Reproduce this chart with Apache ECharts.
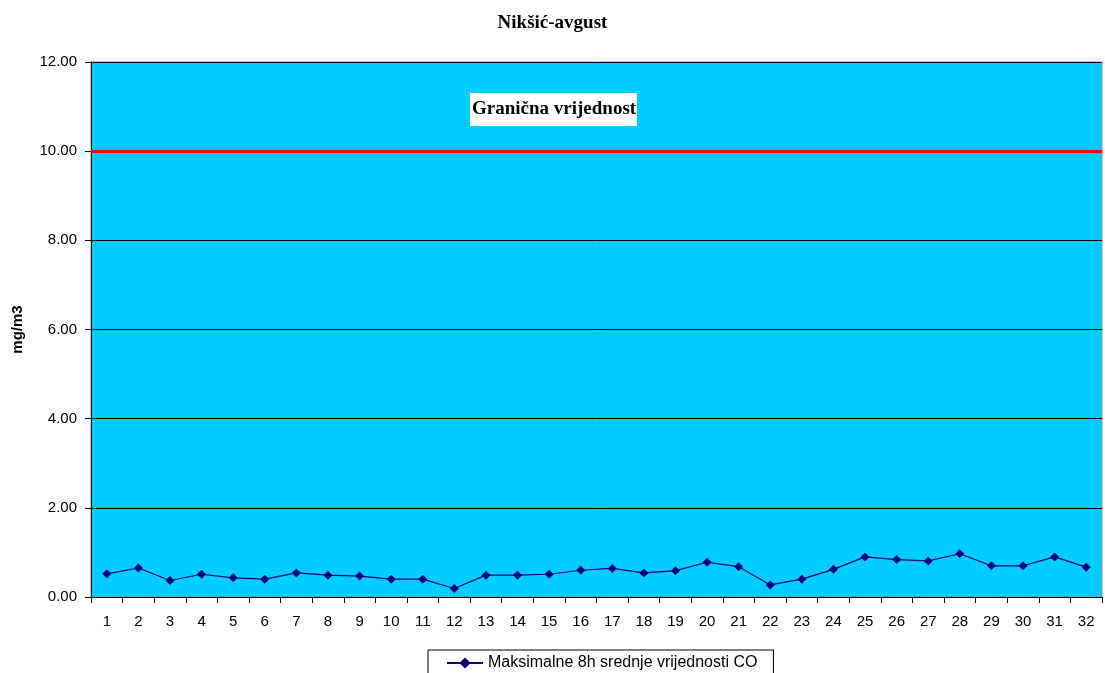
<!DOCTYPE html>
<html><head><meta charset="utf-8">
<script src="https://cdn.jsdelivr.net/npm/echarts@6/dist/echarts.min.js"></script>
<style>html,body{margin:0;padding:0;background:#fff}#c{width:1105px;height:673px}</style>
</head><body><div id="c"></div>
<script>
const categories = ['1','2','3','4','5','6','7','8','9','10','11','12','13','14','15','16','17','18','19','20','21','22','23','24','25','26','27','28','29','30','31','32'];
const coValues = [0.52,0.65,0.37,0.51,0.43,0.40,0.54,0.49,0.47,0.40,0.40,0.19,0.49,0.49,0.51,0.60,0.64,0.54,0.59,0.78,0.68,0.27,0.40,0.62,0.90,0.84,0.81,0.97,0.70,0.70,0.90,0.67];
const limitValue = 10;
const seriesName = 'Maksimalne 8h srednje vrijednosti CO';

const chart = echarts.init(document.getElementById('c'));
chart.setOption({
  animation: false,
  backgroundColor: '#fff',
  title: {
    text: 'Nikšić-avgust', left: 'center', top: 9,
    textStyle: {fontFamily: 'Liberation Serif', fontWeight: 'bold', fontSize: 19, color: '#000'}
  },
  legend: {
    bottom: -12, left: 428, itemWidth: 36, itemHeight: 14, itemGap: 4,
    data: [seriesName],
    padding: [5, 16, 14, 18],
    borderColor: '#000', borderWidth: 1, backgroundColor: '#fff',
    textStyle: {fontFamily: 'Liberation Sans', fontSize: 16, color: '#000'}
  },
  grid: {left: 91, right: 3, top: 62, bottom: 76, show: true, backgroundColor: '#00ccff', borderColor: '#999', borderWidth: 1},
  xAxis: {
    type: 'category', data: categories, boundaryGap: true,
    axisLine: {lineStyle: {color: '#000'}},
    axisTick: {show: true, length: 6, lineStyle: {color: '#000'}},
    axisLabel: {color: '#000', fontFamily: 'Liberation Sans', fontSize: 15, margin: 17}
  },
  yAxis: {
    type: 'value', min: 0, max: 12, interval: 2,
    name: 'mg/m3', nameLocation: 'middle', nameGap: 66, nameRotate: 90,
    nameTextStyle: {fontFamily: 'Liberation Sans', fontWeight: 'bold', fontSize: 15, color: '#000'},
    axisLine: {show: true, lineStyle: {color: '#000'}},
    axisTick: {show: true, length: 6, lineStyle: {color: '#000'}},
    axisLabel: {color: '#000', fontFamily: 'Liberation Sans', fontSize: 15, margin: 14, formatter: v => v.toFixed(2)},
    splitLine: {show: true, lineStyle: {color: '#000', width: 1}}
  },
  series: [{
    name: seriesName, type: 'line', data: coValues,
    symbol: 'diamond', symbolSize: 9,
    lineStyle: {color: '#000080', width: 1.2},
    itemStyle: {color: '#000080'},
    markLine: {
      silent: true, symbol: 'none',
      lineStyle: {color: '#ff0000', width: 3, type: 'solid'},
      label: {show: false},
      data: [{yAxis: limitValue}]
    }
  }],
  graphic: [{
    type: 'text', left: 470, top: 93,
    style: {
      text: 'Granična vrijednost', fill: '#000',
      font: 'bold 19px "Liberation Serif"',
      backgroundColor: '#fff', padding: [7, 2, 7, 2], width: 163, align: 'center'
    }
  }]
});
</script></body></html>
